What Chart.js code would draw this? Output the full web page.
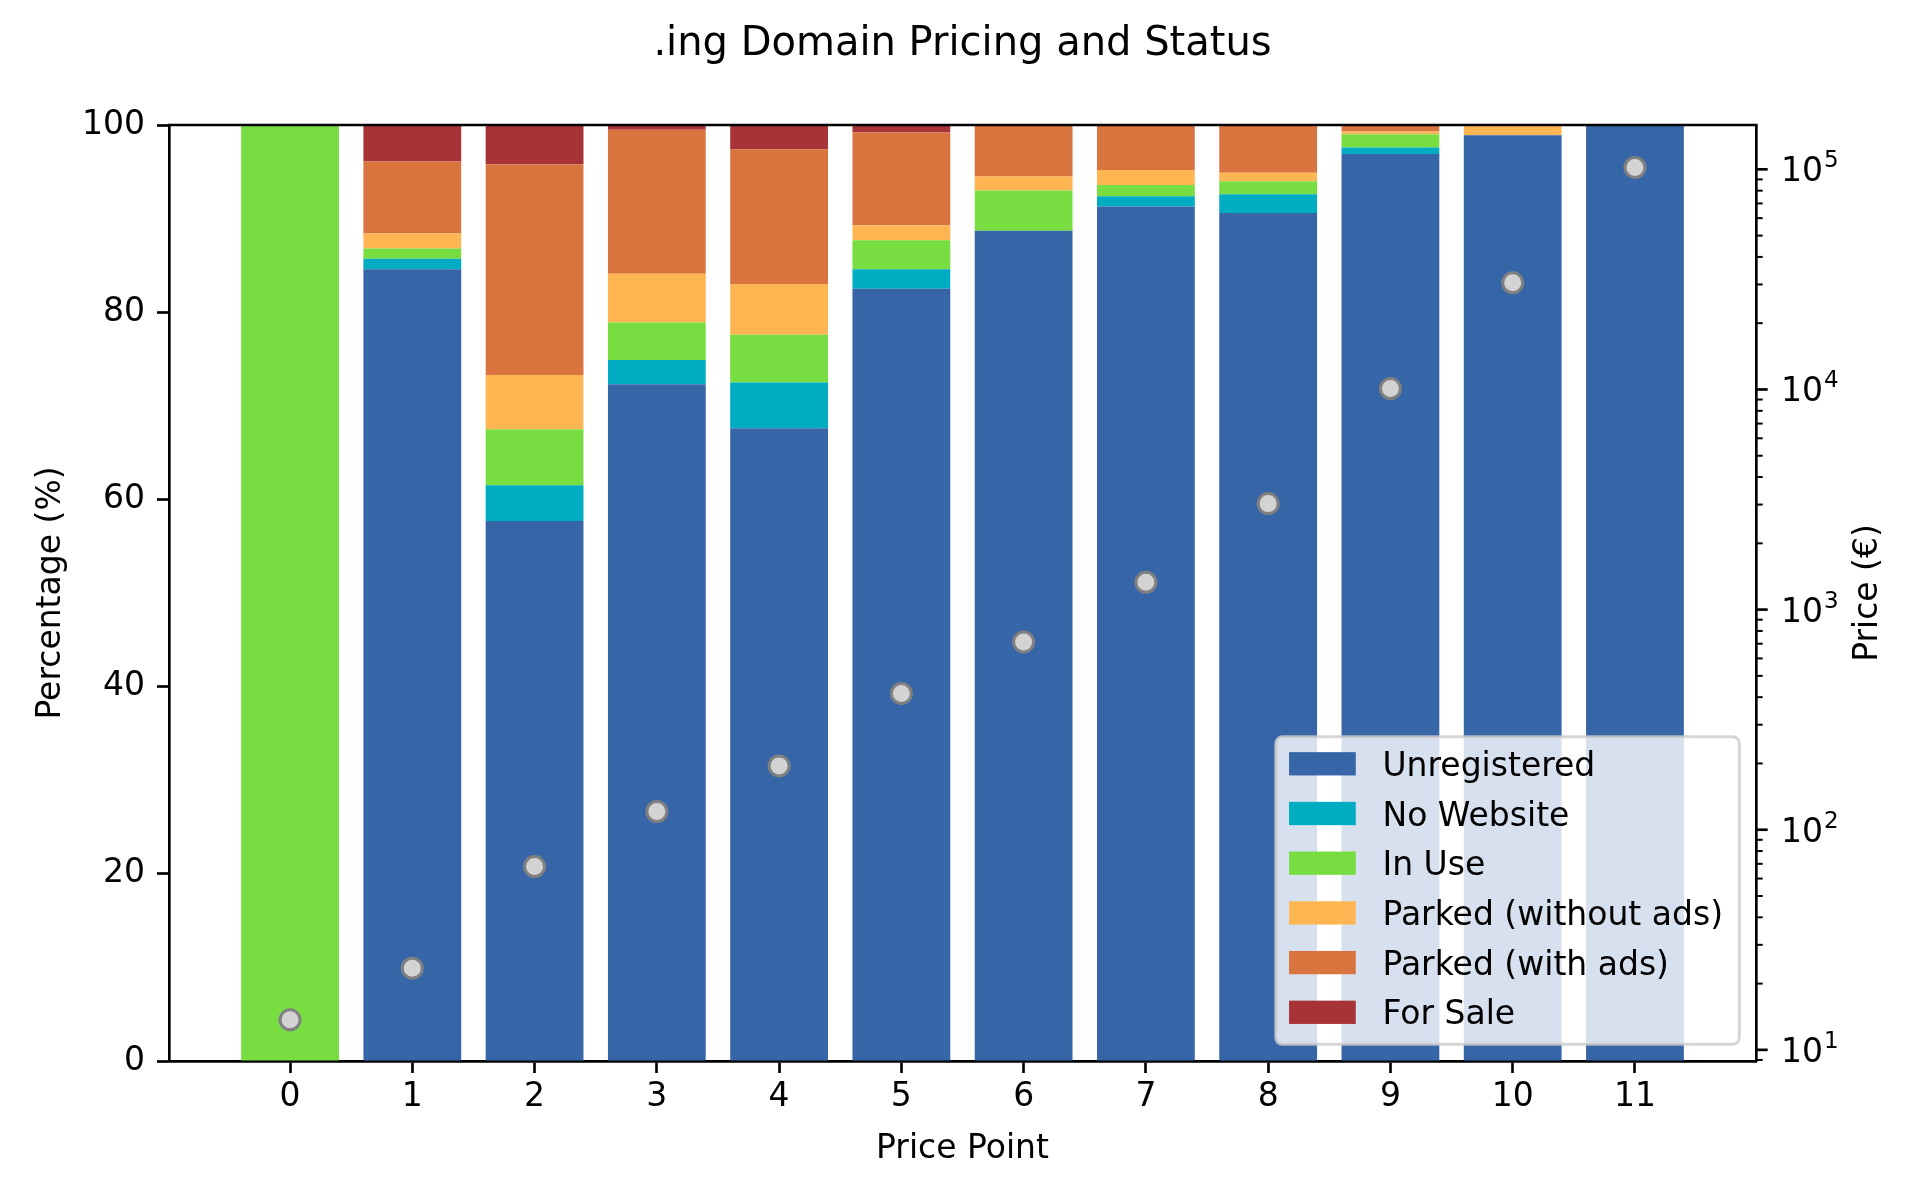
<!DOCTYPE html>
<html>
<head>
<meta charset="utf-8">
<script src="https://cdn.jsdelivr.net/npm/chart.js@4.4.0/dist/chart.umd.min.js"></script>
<style>
  html, body { margin: 0; padding: 0; background: #fff; }
  #wrap { width: 1920px; height: 1200px; }
</style>
</head>
<body>
<div id="wrap"><canvas id="chart" width="1920" height="1200"></canvas></div>
<script>
// --- data ---
const pricePoints = [0, 1, 2, 3, 4, 5, 6, 7, 8, 9, 10, 11];
const unregistered = [0, 84.6, 57.7, 72.3, 67.6, 82.5, 88.7, 91.3, 90.6, 96.9, 98.9, 100];
const noWebsite    = [0, 1.1, 3.8, 2.6, 4.9, 2.1, 0, 1.1, 2.0, 0.7, 0, 0];
const inUse        = [100, 1.1, 6.0, 4.0, 5.1, 3.1, 4.3, 1.2, 1.4, 1.4, 0, 0];
const parkedNoAds  = [0, 1.6, 5.8, 5.2, 5.4, 1.6, 1.5, 1.6, 0.9, 0.3, 1.1, 0];
const parkedAds    = [0, 7.7, 22.5, 15.4, 14.4, 9.9, 5.5, 4.8, 5.1, 0.7, 0, 0];
const forSale      = [0, 3.9, 4.2, 0.5, 2.6, 0.8, 0, 0, 0, 0, 0, 0];
const prices       = [13.7, 23.5, 68, 121, 195, 416, 713, 1330, 3030, 10100, 30500, 102000];

const percentTicks = [0, 20, 40, 60, 80, 100];
const priceTicks = [9, 10, 20, 30, 40, 50, 60, 70, 80, 90,
  100, 200, 300, 400, 500, 600, 700, 800, 900,
  1000, 2000, 3000, 4000, 5000, 6000, 7000, 8000, 9000,
  10000, 20000, 30000, 40000, 50000, 60000, 70000, 80000, 90000, 100000];

const titleText = '.ing Domain Pricing and Status';
const xLabel = 'Price Point';
const yLabel = 'Percentage (%)';
const y2Label = 'Price (€)';

const FONT = '"DejaVu Sans"';

const xy = arr => arr.map((v, i) => ({ x: pricePoints[i], y: v }));

const series = [
  { label: 'Unregistered', data: unregistered, color: '#3766a8' },
  { label: 'No Website', data: noWebsite, color: '#00acc1' },
  { label: 'In Use', data: inUse, color: '#77dd41' },
  { label: 'Parked (without ads)', data: parkedNoAds, color: '#ffb652' },
  { label: 'Parked (with ads)', data: parkedAds, color: '#da743f' },
  { label: 'For Sale', data: forSale, color: '#a83336' }
];

const isMajor = v => Math.abs(Math.log10(v) - Math.round(Math.log10(v))) < 1e-9;

// spines, right ticks + 10^n labels, titles, legend
const decor = {
  id: 'decor',
  afterDraw(chart) {
    const { ctx, chartArea: a, scales } = chart;
    ctx.save();
    ctx.strokeStyle = '#000';
    ctx.lineWidth = 2.67;
    ctx.beginPath();
    ctx.moveTo(a.left - 1.33, a.top);
    ctx.lineTo(a.right + 1.33, a.top);
    ctx.stroke();

    const y2 = scales.y2;
    ctx.fillStyle = '#000';
    ctx.textAlign = 'left';
    ctx.textBaseline = 'alphabetic';
    y2.ticks.forEach(t => {
      const major = isMajor(t.value);
      const py = y2.getPixelForValue(t.value);
      ctx.lineWidth = major ? 2.67 : 2;
      ctx.beginPath();
      ctx.moveTo(a.right, py);
      ctx.lineTo(a.right + (major ? 11.7 : 6.7), py);
      ctx.stroke();
      if (major) {
        const base = py + 12;
        ctx.font = '33px ' + FONT;
        ctx.fillText('10', a.right + 25, base);
        const w10 = ctx.measureText('10').width;
        ctx.font = '23px ' + FONT;
        ctx.fillText(String(Math.round(Math.log10(t.value))), a.right + 25 + w10 + 1, base - 14);
      }
    });

    const cx = (a.left + a.right) / 2;
    const cy = (a.top + a.bottom) / 2;
    ctx.textAlign = 'center';
    ctx.font = '40px ' + FONT;
    ctx.fillText(titleText, cx, 55);
    ctx.font = '33px ' + FONT;
    ctx.fillText(xLabel, cx, 1158);
    ctx.save(); ctx.translate(60, cy); ctx.rotate(-Math.PI / 2); ctx.fillText(yLabel, 0, 0); ctx.restore();
    ctx.save(); ctx.translate(1877, cy); ctx.rotate(-Math.PI / 2); ctx.fillText(y2Label, 0, 0); ctx.restore();

    // legend (lower right, matplotlib style)
    const items = chart.data.datasets.filter(d => d.type !== 'scatter');
    ctx.font = '33px ' + FONT;
    const textW = Math.max(...items.map(d => ctx.measureText(d.label).width));
    const pad = 13.3, handleW = 66.7, handleH = 23.3, gap = 26.7, pitch = 49.7;
    const w = pad + handleW + gap + textW + pad + 3;
    const h = 307.5;
    const right = a.right - 16.7, bottom = a.bottom - 16.7;
    const left = right - w, top = bottom - h;
    ctx.beginPath();
    ctx.roundRect(left, top, w, h, 6.7);
    ctx.fillStyle = 'rgba(255,255,255,0.8)';
    ctx.fill();
    ctx.strokeStyle = 'rgba(204,204,204,0.8)';
    ctx.lineWidth = 3;
    ctx.stroke();
    ctx.textAlign = 'left';
    items.forEach((d, i) => {
      const rc = top + 27 + i * pitch;
      ctx.fillStyle = d.backgroundColor;
      ctx.fillRect(left + pad, rc - handleH / 2, handleW, handleH);
      ctx.fillStyle = '#000';
      ctx.fillText(d.label, left + pad + handleW + gap, rc + 12);
    });
    ctx.restore();
  }
};

const datasets = series.map(s => ({
  type: 'bar',
  label: s.label,
  data: xy(s.data),
  backgroundColor: s.color,
  borderWidth: 0,
  yAxisID: 'y',
  categoryPercentage: 1,
  barPercentage: 0.8
}));
datasets.push({
  type: 'scatter',
  label: 'Price',
  data: xy(prices),
  yAxisID: 'y2',
  order: -1,
  pointRadius: 10,
  borderWidth: 3,
  backgroundColor: '#d3d3d3',
  borderColor: '#808080'
});

new Chart(document.getElementById('chart'), {
  type: 'bar',
  data: { datasets },
  options: {
    responsive: false,
    devicePixelRatio: 1,
    animation: false,
    events: [],
    layout: { padding: { top: 125, left: 0, right: 0, bottom: 0 } },
    plugins: { legend: { display: false }, title: { display: false }, tooltip: { enabled: false } },
    scales: {
      x: {
        type: 'linear',
        stacked: true,
        offset: false,
        bounds: 'data',
        min: -0.99,
        max: 11.99,
        afterBuildTicks: s => { s.ticks = pricePoints.map(v => ({ value: v })); },
        afterFit: s => { s.height = 139; },
        grid: { display: true, drawOnChartArea: false, offset: false, tickLength: 12, tickWidth: 2.67, tickColor: '#000' },
        border: { display: true, color: '#000', width: 2.67 },
        ticks: { color: '#000', font: { family: FONT, size: 33 }, padding: 5, autoSkip: false, maxRotation: 0,
          callback: v => String(v) }
      },
      y: {
        type: 'linear',
        position: 'left',
        stacked: true,
        min: 0,
        max: 100,
        afterBuildTicks: s => { s.ticks = percentTicks.map(v => ({ value: v })); },
        afterFit: s => { s.width = 169; },
        grid: { display: true, drawOnChartArea: false, tickLength: 12, tickWidth: 2.67, tickColor: '#000' },
        border: { display: true, color: '#000', width: 2.67 },
        ticks: { color: '#000', font: { family: FONT, size: 33 }, padding: 12, autoSkip: false }
      },
      y2: {
        type: 'logarithmic',
        position: 'right',
        bounds: 'data',
        min: 8.9,
        max: 159000,
        afterBuildTicks: s => { s.ticks = priceTicks.map(v => ({ value: v, major: isMajor(v) })); },
        afterFit: s => { s.width = 164; },
        grid: { display: true, drawOnChartArea: false, drawTicks: false },
        border: { display: true, color: '#000', width: 2.67 },
        ticks: { display: false }
      }
    }
  },
  plugins: [decor]
});
</script>
</body>
</html>
